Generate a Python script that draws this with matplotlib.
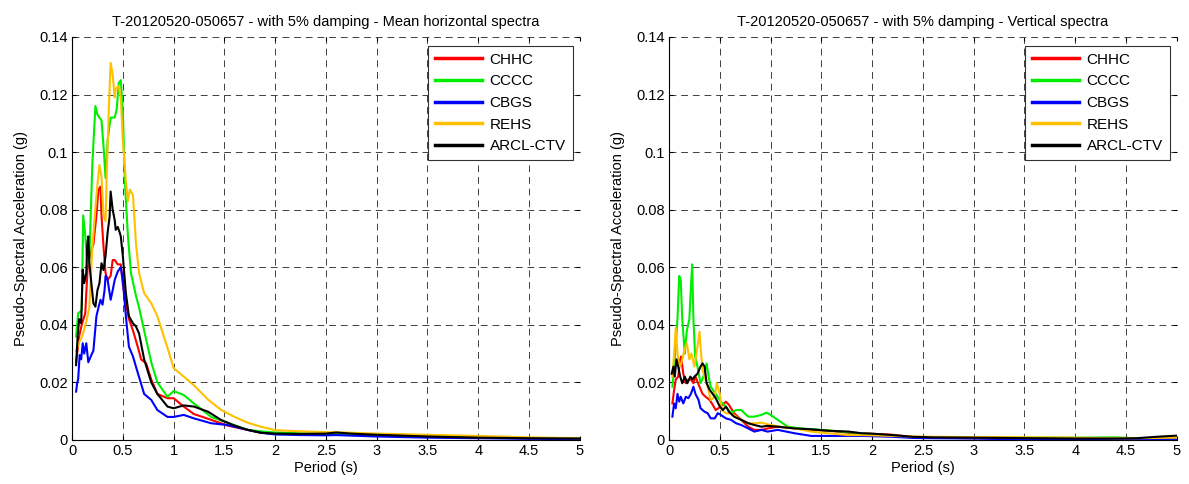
import numpy as np
import matplotlib
matplotlib.use('Agg')
import matplotlib.pyplot as plt

plt.rcParams['font.family'] = ['Liberation Sans', 'DejaVu Sans']
plt.rcParams['font.size'] = 10

stations = ['CHHC', 'CCCC', 'CBGS', 'REHS', 'ARCL-CTV']
colors = ['#ff0000', '#00ee00', '#0000ff', '#ffc000', '#000000']

# ---- mean horizontal spectra (period s, PSA g) ----
tail_T = [2.0, 2.25, 2.5, 2.6, 2.75, 3.0, 3.25, 3.5, 4.0, 4.5, 5.0]

h_chhc_T = [0.04, 0.07, 0.095, 0.13, 0.155, 0.19, 0.21, 0.24, 0.26, 0.28, 0.29, 0.31, 0.33, 0.35, 0.38, 0.40,
            0.42, 0.45, 0.48, 0.5, 0.53, 0.56, 0.6, 0.65, 0.68, 0.73, 0.78, 0.84, 0.94, 1.0, 1.1, 1.2, 1.37,
            1.53, 1.73, 1.86] + tail_T
h_chhc = [0.027, 0.036, 0.040, 0.044, 0.061, 0.066, 0.068, 0.078, 0.087, 0.088, 0.078, 0.067, 0.058, 0.0556,
          0.057, 0.0625, 0.0625, 0.061, 0.061, 0.054, 0.0475, 0.042, 0.038, 0.032, 0.028, 0.0266, 0.021, 0.016,
          0.0145, 0.0145, 0.0116, 0.009, 0.007, 0.005, 0.0035, 0.0025,
          0.0022, 0.002, 0.0019, 0.0021, 0.0018, 0.0015, 0.0013, 0.0011, 0.0008, 0.0006, 0.0005]

h_cccc_T = [0.04, 0.06, 0.095, 0.11, 0.13, 0.15, 0.17, 0.2, 0.23, 0.25, 0.27, 0.29, 0.31, 0.33, 0.35, 0.38,
            0.42, 0.44, 0.46, 0.48, 0.5, 0.52, 0.55, 0.58, 0.63, 0.66, 0.71, 0.78, 0.84, 0.94, 1.0, 1.1, 1.2,
            1.37, 1.53, 1.73, 1.86] + tail_T
h_cccc = [0.036, 0.044, 0.045, 0.078, 0.071, 0.061, 0.063, 0.096, 0.116, 0.113, 0.112, 0.111, 0.102, 0.091,
          0.104, 0.112, 0.112, 0.115, 0.124, 0.125, 0.114, 0.090, 0.071, 0.058, 0.050, 0.046, 0.038, 0.027,
          0.020, 0.015, 0.017, 0.0156, 0.0127, 0.008, 0.006, 0.0035, 0.003,
          0.0026, 0.0023, 0.0021, 0.0022, 0.002, 0.0017, 0.0014, 0.0012, 0.0009, 0.0007, 0.0005]

h_cbgs_T = [0.04, 0.05, 0.06, 0.075, 0.09, 0.105, 0.12, 0.14, 0.16, 0.19, 0.21, 0.24, 0.26, 0.28, 0.30, 0.32,
            0.33, 0.35, 0.38, 0.40, 0.42, 0.45, 0.48, 0.5, 0.53, 0.56, 0.6, 0.65, 0.71, 0.78, 0.84, 0.94, 1.0,
            1.1, 1.2, 1.37, 1.53, 1.73, 1.86] + tail_T
h_cbgs = [0.0168, 0.0197, 0.021, 0.0295, 0.028, 0.0336, 0.030, 0.0336, 0.027, 0.0295, 0.031, 0.043, 0.046,
          0.0487, 0.047, 0.052, 0.057, 0.0556, 0.0487, 0.052, 0.0556, 0.0585, 0.060, 0.0556, 0.043, 0.0324,
          0.029, 0.023, 0.016, 0.0139, 0.0104, 0.008, 0.008, 0.0087, 0.0075, 0.0058, 0.0052, 0.0035, 0.0025,
          0.0019, 0.0017, 0.0016, 0.0017, 0.0015, 0.0012, 0.001, 0.0008, 0.0006, 0.0004, 0.0003]

h_rehs_T = [0.04, 0.07, 0.1, 0.14, 0.17, 0.2, 0.24, 0.27, 0.29, 0.31, 0.33, 0.34, 0.36, 0.38, 0.40, 0.42,
            0.43, 0.46, 0.48, 0.5, 0.53, 0.55, 0.57, 0.6, 0.63, 0.66, 0.71, 0.78, 0.84, 0.94, 1.0, 1.1, 1.2,
            1.34, 1.47, 1.6, 1.73, 1.86] + tail_T
h_rehs = [0.031, 0.034, 0.036, 0.041, 0.046, 0.067, 0.085, 0.0955, 0.0915, 0.078, 0.076, 0.090, 0.113, 0.131,
          0.127, 0.119, 0.122, 0.123, 0.119, 0.104, 0.090, 0.083, 0.087, 0.085, 0.068, 0.058, 0.051, 0.0475,
          0.043, 0.032, 0.025, 0.022, 0.019, 0.014, 0.0104, 0.008, 0.006, 0.0046,
          0.0034, 0.003, 0.0027, 0.0027, 0.0025, 0.0022, 0.002, 0.0018, 0.0014, 0.0009, 0.0006]

h_arcl_T = [0.04, 0.055, 0.07, 0.09, 0.105, 0.12, 0.14, 0.15, 0.16, 0.17, 0.19, 0.21, 0.23, 0.25, 0.27, 0.29,
            0.31, 0.33, 0.35, 0.37, 0.38, 0.40, 0.42, 0.43, 0.45, 0.47, 0.48, 0.50, 0.53, 0.56, 0.6, 0.63, 0.66,
            0.71, 0.78, 0.84, 0.94, 1.0, 1.1, 1.2, 1.34, 1.47, 1.6, 1.73, 1.86] + tail_T
h_arcl = [0.026, 0.036, 0.042, 0.0405, 0.0592, 0.0545, 0.058, 0.068, 0.0707, 0.0614, 0.0545, 0.0475, 0.0463,
          0.052, 0.0545, 0.0614, 0.059, 0.064, 0.072, 0.0776, 0.0863, 0.080, 0.0764, 0.073, 0.074, 0.072,
          0.0707, 0.064, 0.051, 0.043, 0.0405, 0.0394, 0.037, 0.028, 0.020, 0.016, 0.0116, 0.011, 0.012,
          0.0116, 0.0098, 0.0069, 0.005, 0.0035, 0.0025,
          0.0022, 0.0021, 0.0022, 0.0026, 0.0022, 0.0018, 0.0015, 0.0012, 0.0008, 0.0006, 0.0005]

# ---- vertical spectra ----
vtail_T = [2.0, 2.2, 2.4, 2.6, 3.0, 3.3, 3.6, 4.0, 4.4, 4.6, 4.8, 5.0]

v_chhc_T = [0.033, 0.05, 0.066, 0.09, 0.11, 0.12, 0.14, 0.165, 0.19, 0.215, 0.24, 0.26, 0.3, 0.33, 0.36, 0.4,
            0.43, 0.46, 0.51, 0.56, 0.59, 0.64, 0.71, 0.78, 0.84, 0.91, 0.97, 1.07, 1.24, 1.4, 1.57, 1.77,
            1.9] + vtail_T
v_chhc = [0.0127, 0.0174, 0.021, 0.022, 0.028, 0.029, 0.023, 0.0197, 0.021, 0.021, 0.0197, 0.022, 0.0185,
          0.016, 0.015, 0.0139, 0.0122, 0.0104, 0.0116, 0.0133, 0.0122, 0.0093, 0.007, 0.0046, 0.0035, 0.0035,
          0.004, 0.0046, 0.004, 0.0035, 0.0032, 0.0025, 0.0023,
          0.0021, 0.0018, 0.001, 0.0008, 0.0006, 0.0005, 0.0004, 0.0003, 0.0003, 0.0003, 0.0004, 0.0005]

v_cccc_T = [0.033, 0.056, 0.083, 0.1, 0.115, 0.13, 0.155, 0.175, 0.2, 0.215, 0.228, 0.24, 0.257, 0.28, 0.31,
            0.35, 0.37, 0.39, 0.41, 0.46, 0.51, 0.56, 0.61, 0.66, 0.71, 0.78, 0.84, 0.91, 0.96, 1.0, 1.07,
            1.17, 1.3, 1.5, 1.7, 1.9] + vtail_T
v_cccc = [0.0185, 0.028, 0.042, 0.057, 0.0556, 0.042, 0.030, 0.038, 0.042, 0.053, 0.061, 0.042, 0.029,
          0.0255, 0.0197, 0.023, 0.0266, 0.022, 0.0185, 0.016, 0.0133, 0.0116, 0.0093, 0.0104, 0.0104, 0.0081,
          0.0081, 0.0087, 0.0095, 0.0087, 0.007, 0.0046, 0.004, 0.0035, 0.0029, 0.0023,
          0.002, 0.0015, 0.001, 0.0009, 0.0008, 0.0008, 0.0008, 0.0008, 0.0009, 0.0006, 0.0005, 0.0005]

v_cbgs_T = [0.033, 0.05, 0.066, 0.083, 0.1, 0.115, 0.14, 0.165, 0.19, 0.215, 0.24, 0.26, 0.29, 0.31, 0.35,
            0.38, 0.41, 0.45, 0.48, 0.51, 0.56, 0.61, 0.66, 0.71, 0.78, 0.84, 0.91, 0.97, 1.07, 1.24, 1.4,
            1.57, 1.77, 1.9] + vtail_T
v_cbgs = [0.0081, 0.0127, 0.011, 0.016, 0.0133, 0.015, 0.0127, 0.015, 0.0145, 0.016, 0.0185, 0.016, 0.0139,
          0.011, 0.0098, 0.0093, 0.0075, 0.0075, 0.0093, 0.0087, 0.0075, 0.007, 0.0058, 0.0052, 0.004, 0.0029,
          0.0035, 0.0029, 0.0035, 0.0023, 0.0014, 0.0014, 0.0014, 0.0014,
          0.0013, 0.0011, 0.0007, 0.0006, 0.0005, 0.0003, 0.0002, 0.0002, 0.0002, 0.0002, 0.0003, 0.0004]

v_rehs_T = [0.033, 0.05, 0.066, 0.083, 0.1, 0.12, 0.15, 0.175, 0.2, 0.22, 0.25, 0.27, 0.3, 0.31, 0.33, 0.35,
            0.38, 0.41, 0.45, 0.47, 0.5, 0.52, 0.56, 0.61, 0.66, 0.71, 0.78, 0.84, 0.91, 1.0, 1.1, 1.24, 1.4,
            1.57, 1.77, 1.9] + vtail_T
v_rehs = [0.022, 0.030, 0.039, 0.030, 0.0255, 0.0266, 0.031, 0.0336, 0.028, 0.030, 0.0255, 0.030, 0.0376,
          0.0324, 0.0243, 0.022, 0.0185, 0.0139, 0.015, 0.0197, 0.016, 0.0104, 0.0093, 0.0093, 0.0081, 0.007,
          0.0058, 0.0058, 0.006, 0.0052, 0.0046, 0.004, 0.0029, 0.0023, 0.0017, 0.0017,
          0.0016, 0.0014, 0.0012, 0.0011, 0.001, 0.001, 0.0009, 0.0008, 0.0006, 0.0006, 0.0007, 0.0008]

v_arcl_T = [0.026, 0.043, 0.056, 0.073, 0.09, 0.11, 0.13, 0.155, 0.18, 0.21, 0.23, 0.25, 0.28, 0.31, 0.33,
            0.35, 0.37, 0.4, 0.43, 0.46, 0.5, 0.53, 0.56, 0.59, 0.64, 0.71, 0.78, 0.84, 0.91, 0.97, 1.07, 1.24,
            1.4, 1.57, 1.77, 1.9] + vtail_T
v_arcl = [0.023, 0.0255, 0.022, 0.028, 0.0255, 0.022, 0.0197, 0.022, 0.0197, 0.022, 0.021, 0.022, 0.023,
          0.0255, 0.0266, 0.0255, 0.0197, 0.0174, 0.016, 0.0145, 0.0116, 0.0104, 0.0116, 0.0098, 0.0081,
          0.007, 0.0058, 0.0052, 0.0046, 0.0049, 0.0046, 0.004, 0.0037, 0.0032, 0.0029, 0.0023,
          0.0022, 0.0017, 0.0011, 0.0009, 0.0008, 0.0007, 0.0006, 0.0005, 0.0005, 0.0006, 0.0011, 0.0015]

horiz = [(h_chhc_T, h_chhc), (h_cccc_T, h_cccc), (h_cbgs_T, h_cbgs), (h_rehs_T, h_rehs), (h_arcl_T, h_arcl)]
vert = [(v_chhc_T, v_chhc), (v_cccc_T, v_cccc), (v_cbgs_T, v_cbgs), (v_rehs_T, v_rehs), (v_arcl_T, v_arcl)]

x_ticks = [0, 0.5, 1, 1.5, 2, 2.5, 3, 3.5, 4, 4.5, 5]
x_labels = ['0', '0.5', '1', '1.5', '2', '2.5', '3', '3.5', '4', '4.5', '5']
y_ticks = [0, 0.02, 0.04, 0.06, 0.08, 0.1, 0.12, 0.14]
y_labels = ['0', '0.02', '0.04', '0.06', '0.08', '0.1', '0.12', '0.14']

titles = ['T-20120520-050657 - with 5% damping - Mean horizontal spectra',
          'T-20120520-050657 - with 5% damping - Vertical spectra']

fig = plt.figure(figsize=(11.89, 4.84), dpi=100)
ax1 = fig.add_axes([0.0606, 0.091, 0.427, 0.8326])
ax2 = fig.add_axes([0.5627, 0.091, 0.427, 0.8326])

for ax, data, title in zip([ax1, ax2], [horiz, vert], titles):
    for (T, v), c, name in zip(data, colors, stations):
        ax.plot(T, v, color=c, lw=1.5, label=name)
    ax.set_xlim(0, 5)
    ax.set_ylim(0, 0.14)
    ax.set_xticks(x_ticks)
    ax.set_xticklabels(x_labels)
    ax.set_yticks(y_ticks)
    ax.set_yticklabels(y_labels)
    ax.grid(True, color='0.25', linestyle=(0, (7, 5)), lw=0.7)
    ax.spines['top'].set_visible(False)
    ax.spines['right'].set_visible(False)
    ax.tick_params(direction='in', length=3, top=True, right=True, labelsize=10.5, pad=3)
    ax.set_xlabel('Period (s)', fontsize=10.5, labelpad=2)
    ax.set_ylabel('Pseudo-Spectral Acceleration (g)', fontsize=10.5, labelpad=8)
    ax.set_title(title, fontsize=10.5, pad=8)
    leg = ax.legend(loc='upper right', fontsize=11, fancybox=False, framealpha=1, edgecolor='0.2',
                    handlelength=3.1, handletextpad=0.5, borderpad=0.45, labelspacing=0.5,
                    borderaxespad=0, bbox_to_anchor=(0.986, 0.978))
    leg.get_frame().set_linewidth(0.8)
    for h in leg.legend_handles:
        h.set_linewidth(2.5)

fig.savefig('out.png', dpi=100)
